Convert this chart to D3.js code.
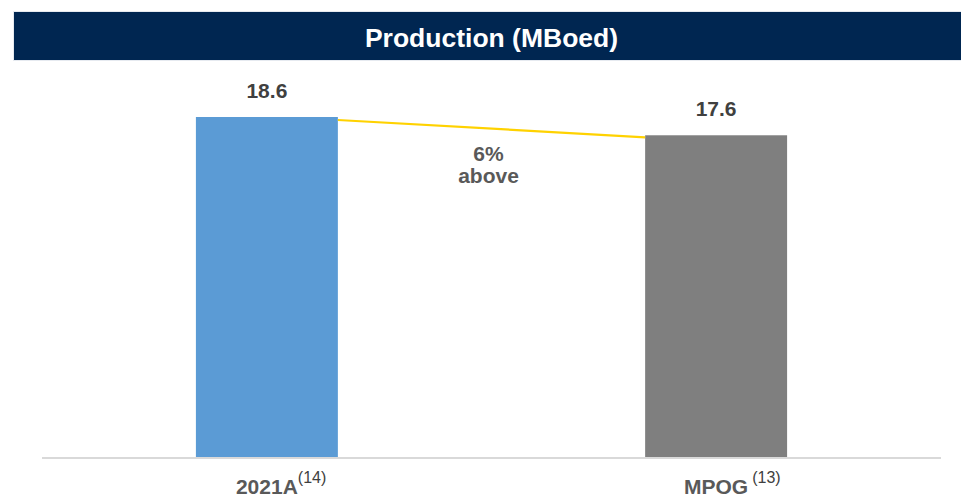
<!DOCTYPE html>
<html>
<head>
<meta charset="utf-8">
<script src="https://cdn.jsdelivr.net/npm/d3@7"></script>
<style>
  html, body { margin: 0; padding: 0; background: #fff; }
  svg { display: block; }
</style>
</head>
<body>
<svg id="chart" width="961" height="499"></svg>
<script>
// Production data (MBoed)
const categories = ["2021A", "MPOG"];
const footnotes = ["(14)", "(13)"];
const values = [18.6, 17.6];
const valueLabels = ["18.6", "17.6"];
const barColors = ["#5B9BD5", "#7F7F7F"];
const title = "Production (MBoed)";
const compareLines = ["6%", "above"];

const svg = d3.select("#chart");
const font = "Liberation Sans, Arial, Helvetica, sans-serif";

// Header band
svg.append("rect")
  .attr("x", 13).attr("y", 11).attr("width", 950).attr("height", 50)
  .attr("fill", "#e6eaf0");
svg.append("rect")
  .attr("x", 14).attr("y", 12).attr("width", 947).attr("height", 48)
  .attr("fill", "#002651");
svg.append("text")
  .attr("x", 491.5).attr("y", 47)
  .attr("text-anchor", "middle")
  .attr("font-family", font)
  .attr("font-weight", "bold")
  .attr("font-size", 26.5)
  .attr("fill", "#ffffff")
  .text(title);

// Scales
const x = d3.scaleBand()
  .domain(categories)
  .range([42, 941])
  .paddingInner(0.684)
  .paddingOuter(0.3426);

const y = d3.scaleLinear()
  .domain([0, d3.max(values)])
  .range([457, 117]);

const data = categories.map((c, i) => ({ cat: c, value: values[i], label: valueLabels[i], color: barColors[i], note: footnotes[i] }));

// Bars
svg.selectAll("rect.bar")
  .data(data)
  .join("rect")
  .attr("class", "bar")
  .attr("x", d => x(d.cat))
  .attr("y", d => y(d.value))
  .attr("width", x.bandwidth())
  .attr("height", d => y(0) - y(d.value))
  .attr("fill", d => d.color);

// Baseline
svg.append("line")
  .attr("x1", 42).attr("x2", 941)
  .attr("y1", y(0) + 1).attr("y2", y(0) + 1)
  .attr("stroke", "#d9d9d9")
  .attr("stroke-width", 2);

// Connector between bar tops
svg.append("line")
  .attr("x1", x(categories[0]) + x.bandwidth())
  .attr("y1", y(values[0]) + 3)
  .attr("x2", x(categories[1]))
  .attr("y2", y(values[1]) + 2)
  .attr("stroke", "#FFD200")
  .attr("stroke-width", 2.2);

// Value labels
svg.selectAll("text.value")
  .data(data)
  .join("text")
  .attr("class", "value")
  .attr("x", d => x(d.cat) + x.bandwidth() / 2)
  .attr("y", d => y(d.value) - 19)
  .attr("text-anchor", "middle")
  .attr("font-family", font)
  .attr("font-weight", "bold")
  .attr("font-size", 21)
  .attr("fill", "#404040")
  .text(d => d.label);

// Comparison note
const midX = (x(categories[0]) + x.bandwidth() + x(categories[1])) / 2;
svg.append("text")
  .attr("text-anchor", "middle")
  .attr("font-family", font)
  .attr("font-weight", "bold")
  .attr("font-size", 21)
  .attr("fill", "#595959")
  .selectAll("tspan")
  .data(compareLines)
  .join("tspan")
  .attr("x", midX - 3)
  .attr("y", (d, i) => 161 + i * 22)
  .text(d => d);

// Category labels centred under bars, footnote superscripts trailing
const catGroups = svg.selectAll("g.cat")
  .data(data)
  .join("g")
  .attr("class", "cat");
catGroups.append("text")
  .attr("class", "cat-label")
  .attr("x", d => x(d.cat) + x.bandwidth() / 2)
  .attr("y", 494)
  .attr("text-anchor", "middle")
  .attr("font-family", font)
  .attr("font-weight", "bold")
  .attr("font-size", 21)
  .attr("fill", "#595959")
  .text(d => d.cat);
catGroups.each(function(d, i) {
  const g = d3.select(this);
  const w = g.select("text.cat-label").node().getComputedTextLength();
  g.append("text")
    .attr("x", x(d.cat) + x.bandwidth() / 2 + w / 2 + (i === 0 ? 0 : 4))
    .attr("y", 483)
    .attr("font-family", font)
    .attr("font-size", 16)
    .attr("fill", "#404040")
    .text(d.note);
});
</script>
</body>
</html>
